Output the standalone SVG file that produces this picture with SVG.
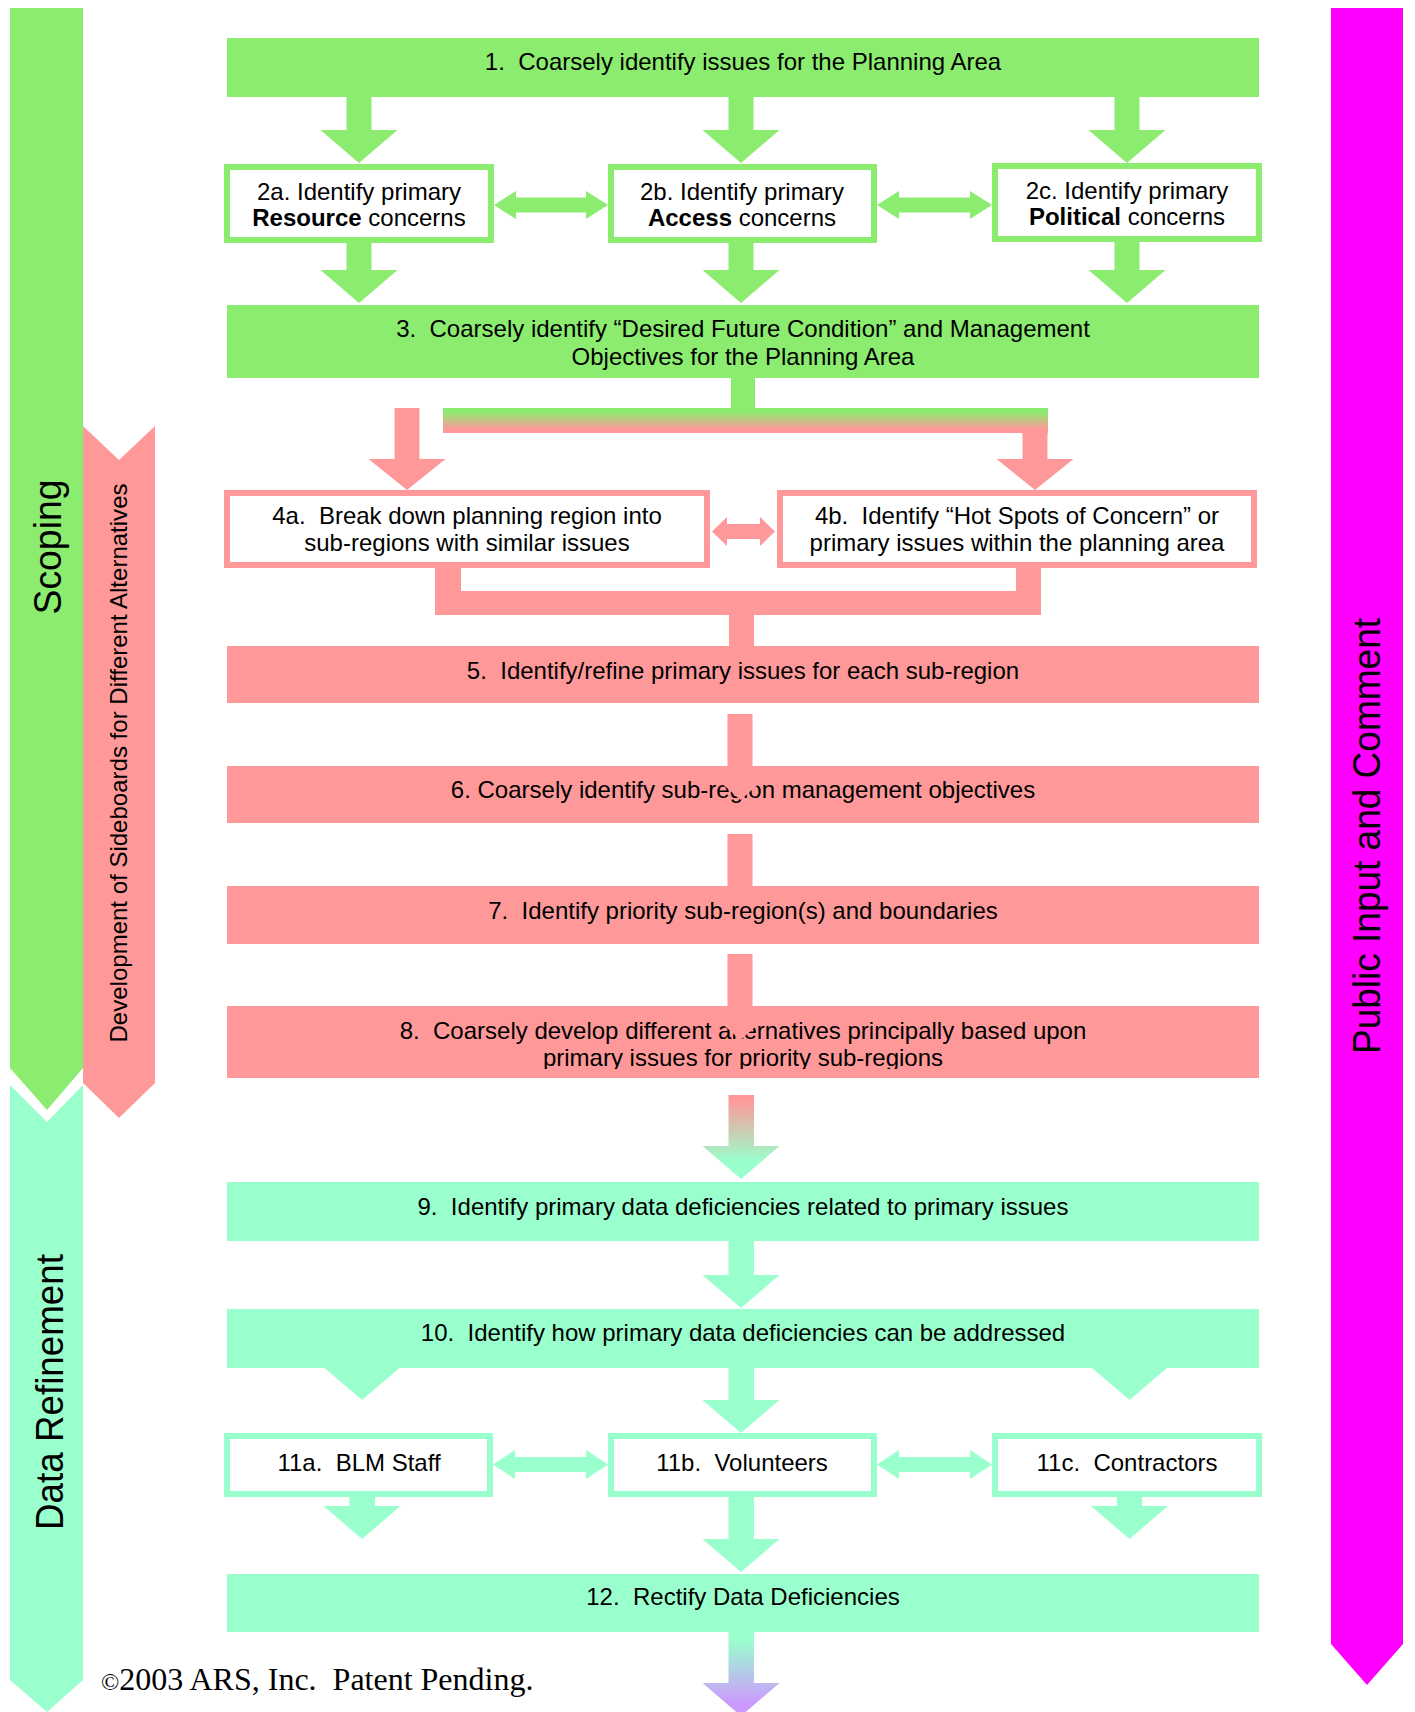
<svg xmlns="http://www.w3.org/2000/svg" width="1415" height="1712" viewBox="0 0 1415 1712">
<style>
text{font-family:"Liberation Sans",Arial,sans-serif;fill:#000;}
.t{font-size:24px;text-anchor:middle;}
.side{font-size:38px;text-anchor:middle;}
.g{fill:#8CEC70;}
.p{fill:#FF9999;}
.c{fill:#99FFCC;}
.bg{fill:#fff;stroke:#8CEC70;stroke-width:6;}
.bp{fill:#fff;stroke:#FF9999;stroke-width:6;}
.bc{fill:#fff;stroke:#99FFCC;stroke-width:6;}
</style>
<defs>
<linearGradient id="gp" x1="0" y1="0" x2="0" y2="1"><stop offset="0.15" stop-color="#8CEC70"/><stop offset="0.85" stop-color="#FF9999"/></linearGradient>
<linearGradient id="pc" gradientUnits="userSpaceOnUse" x1="0" y1="1095" x2="0" y2="1179"><stop offset="0.05" stop-color="#FF9999"/><stop offset="0.8" stop-color="#99FFCC"/></linearGradient>
<linearGradient id="cv" gradientUnits="userSpaceOnUse" x1="0" y1="1632" x2="0" y2="1712"><stop offset="0.1" stop-color="#99FFCC"/><stop offset="0.9" stop-color="#CC99FF"/></linearGradient>
<clipPath id="clip8"><rect x="227" y="1006" width="1032" height="63"/></clipPath>
</defs>

<g id="phase-bars">
<polygon id="scoping-bar" class="g" points="10,8 83,8 83,1068 47,1110 10,1068"/>
<polygon id="refinement-bar" class="c" points="10,1085 47,1122 83,1085 83,1680 47,1712 10,1680"/>
<polygon id="sideboards-bar" class="p" points="83,426 119,460 155,426 155,1083 119,1118 83,1083"/>
<polygon id="public-bar" fill="#FF00FF" points="1331,8 1403,8 1403,1644 1367,1685 1331,1644"/>
<text class="side" transform="translate(61,547) rotate(-90)" textLength="135" lengthAdjust="spacingAndGlyphs">Scoping</text>
<text class="side" transform="translate(63,1392) rotate(-90)" textLength="276" lengthAdjust="spacingAndGlyphs">Data Refinement</text>
<text class="side" transform="translate(1380,836) rotate(-90)" textLength="436" lengthAdjust="spacingAndGlyphs">Public Input and Comment</text>
<text class="t" transform="translate(127,763) rotate(-90)" textLength="559" lengthAdjust="spacingAndGlyphs">Development of Sideboards for Different Alternatives</text>
</g>

<g id="nodes">
<g id="n1"><rect class="g" x="227" y="38" width="1032" height="59"/><text class="t" x="743" y="70" xml:space="preserve">1.  Coarsely identify issues for the Planning Area</text></g>
<g id="n2a"><rect class="bg" x="227" y="167" width="264" height="73"/><text class="t" x="359" y="200">2a. Identify primary</text><text class="t" x="359" y="226"><tspan font-weight="bold">Resource</tspan> concerns</text></g>
<g id="n2b"><rect class="bg" x="611" y="167" width="263" height="73"/><text class="t" x="742" y="200">2b. Identify primary</text><text class="t" x="742" y="226"><tspan font-weight="bold">Access</tspan> concerns</text></g>
<g id="n2c"><rect class="bg" x="995" y="166" width="264" height="73"/><text class="t" x="1127" y="199">2c. Identify primary</text><text class="t" x="1127" y="225"><tspan font-weight="bold">Political</tspan> concerns</text></g>
<g id="n3"><rect class="g" x="227" y="305" width="1032" height="73"/><text class="t" x="743" y="337" xml:space="preserve">3.  Coarsely identify “Desired Future Condition” and Management</text><text class="t" x="743" y="365">Objectives for the Planning Area</text></g>
<g id="n4a"><rect class="bp" x="227" y="493" width="480" height="72"/><text class="t" x="467" y="524" xml:space="preserve">4a.  Break down planning region into</text><text class="t" x="467" y="551">sub-regions with similar issues</text></g>
<g id="n4b"><rect class="bp" x="780" y="493" width="474" height="72"/><text class="t" x="1017" y="524" xml:space="preserve">4b.  Identify “Hot Spots of Concern” or</text><text class="t" x="1017" y="551">primary issues within the planning area</text></g>
<g id="n5"><rect class="p" x="227" y="646" width="1032" height="57"/><text class="t" x="743" y="679" xml:space="preserve">5.  Identify/refine primary issues for each sub-region</text></g>
<g id="n6"><rect class="p" x="227" y="766" width="1032" height="57"/><text class="t" x="743" y="798">6. Coarsely identify sub-region management objectives</text></g>
<g id="n7"><rect class="p" x="227" y="886" width="1032" height="58"/><text class="t" x="743" y="919" xml:space="preserve">7.  Identify priority sub-region(s) and boundaries</text></g>
<g id="n8"><rect class="p" x="227" y="1006" width="1032" height="72"/><g clip-path="url(#clip8)"><text class="t" x="743" y="1039" xml:space="preserve">8.  Coarsely develop different alternatives principally based upon</text><text class="t" x="743" y="1066">primary issues for priority sub-regions</text></g></g>
<g id="n9"><rect class="c" x="227" y="1182" width="1032" height="59"/><text class="t" x="743" y="1215" xml:space="preserve">9.  Identify primary data deficiencies related to primary issues</text></g>
<g id="n10"><rect class="c" x="227" y="1309" width="1032" height="59"/><text class="t" x="743" y="1341" xml:space="preserve">10.  Identify how primary data deficiencies can be addressed</text></g>
<g id="n11a"><rect class="bc" x="227" y="1436" width="263" height="58"/><text class="t" x="359" y="1471" xml:space="preserve">11a.  BLM Staff</text></g>
<g id="n11b"><rect class="bc" x="611" y="1436" width="263" height="58"/><text class="t" x="742" y="1471" xml:space="preserve">11b.  Volunteers</text></g>
<g id="n11c"><rect class="bc" x="995" y="1436" width="264" height="58"/><text class="t" x="1127" y="1471" xml:space="preserve">11c.  Contractors</text></g>
<g id="n12"><rect class="c" x="227" y="1574" width="1032" height="58"/><text class="t" x="743" y="1605" xml:space="preserve">12.  Rectify Data Deficiencies</text></g>
</g>

<g id="connectors">
<polygon class="g" points="346.5,97 371.5,97 371.5,130 397.5,130 359,163 320.5,130 346.5,130"/>
<polygon class="g" points="728.5,97 753.5,97 753.5,130 779.5,130 741,163 702.5,130 728.5,130"/>
<polygon class="g" points="1114.5,97 1139.5,97 1139.5,130 1165.5,130 1127,163 1088.5,130 1114.5,130"/>
<polygon class="g" points="346.5,243 371.5,243 371.5,270 397.5,270 359,303 320.5,270 346.5,270"/>
<polygon class="g" points="728.5,243 753.5,243 753.5,270 779.5,270 741,303 702.5,270 728.5,270"/>
<polygon class="g" points="1114.5,242 1139.5,242 1139.5,270 1165.5,270 1127,303 1088.5,270 1114.5,270"/>
<polygon class="g" points="494,205 516,191 516,197.5 586,197.5 586,191 608,205 586,219 586,212.5 516,212.5 516,219"/>
<polygon class="g" points="877,205 899,191 899,197.5 970,197.5 970,191 992,205 970,219 970,212.5 899,212.5 899,219"/>
<rect class="g" x="731" y="378" width="24" height="31"/>
<rect x="443" y="408" width="605" height="25" fill="url(#gp)"/>
<polygon class="p" points="1022.5,433 1047.5,433 1047.5,459 1073.5,459 1035,490 996.5,459 1022.5,459"/>
<polygon class="p" points="394.5,408 419.5,408 419.5,459 445.5,459 407,490 368.5,459 394.5,459"/>
<polygon class="p" points="712,531.5 727,517 727,524 760,524 760,517 775,531.5 760,546 760,539 727,539 727,546"/>
<path class="p" d="M435,568 H461 V591 H1016 V568 H1041 V615 H754 V646 H729 V615 H435 Z"/>
<rect class="p" x="727.5" y="714" width="25" height="53"/>
<polygon class="p" points="702,766 779,766 740.5,800"/>
<rect class="p" x="727.5" y="834" width="25" height="53"/>
<rect class="p" x="727.5" y="954" width="25" height="53"/>
<polygon class="p" points="702,1006 779,1006 740.5,1040"/>
<polygon fill="url(#pc)" points="728.5,1095 754,1095 754,1146 779.5,1146 741,1179 702.5,1146 728.5,1146"/>
<polygon class="c" points="728.5,1241 754,1241 754,1275 779.5,1275 741,1308 702.5,1275 728.5,1275"/>
<polygon class="c" points="324.5,1368 399.5,1368 362,1400"/>
<polygon class="c" points="1092,1368 1167,1368 1129.5,1400"/>
<polygon class="c" points="728.5,1368 754,1368 754,1400 779.5,1400 741,1433 702.5,1400 728.5,1400"/>
<polygon class="c" points="493,1464.5 515,1450 515,1457 586,1457 586,1450 608,1464.5 586,1479 586,1472 515,1472 515,1479"/>
<polygon class="c" points="877,1464.5 899,1450 899,1457 970,1457 970,1450 992,1464.5 970,1479 970,1472 899,1472 899,1479"/>
<polygon class="c" points="349.5,1497 375,1497 375,1506 400.5,1506 362,1539 323.5,1506 349.5,1506"/>
<polygon class="c" points="728.5,1497 754,1497 754,1539 779.5,1539 741,1572 702.5,1539 728.5,1539"/>
<polygon class="c" points="1117,1497 1142,1497 1142,1506 1168,1506 1129.5,1539 1091,1506 1117,1506"/>
<polygon fill="url(#cv)" points="728.5,1632 754,1632 754,1683 779.5,1683 741,1716 702.5,1683 728.5,1683"/>
</g>

<text id="copyright" x="101" y="1690" xml:space="preserve" style="font-family:'Liberation Serif','Times New Roman',serif;font-size:32px;"><tspan font-size="24">©</tspan>2003 ARS, Inc.  Patent Pending.</text>
</svg>
